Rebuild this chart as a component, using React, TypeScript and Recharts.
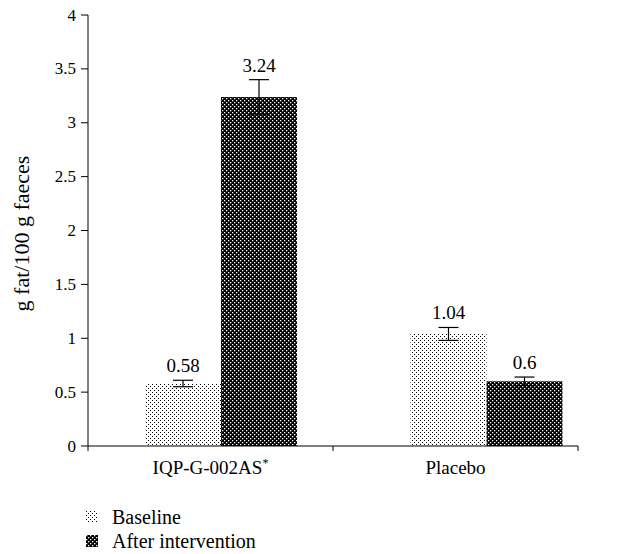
import React from 'react';
import { BarChart, Bar, XAxis, YAxis, ErrorBar, LabelList } from 'recharts';

const categories = ['IQP-G-002AS', 'Placebo'];
const categorySup = ['*', ''];
const seriesNames = ['Baseline', 'After intervention'];
const baselineValues = [0.58, 1.04];
const afterValues = [3.24, 0.6];
const baselineErrors = [0.03, 0.06];
const afterErrors = [0.16, 0.04];
const yTicks = [0, 0.5, 1, 1.5, 2, 2.5, 3, 3.5, 4];

const data = categories.map((c, i) => ({
  name: c,
  baseline: baselineValues[i],
  after: afterValues[i],
  baselineErr: baselineErrors[i],
  afterErr: afterErrors[i],
}));

const FONT = "'Liberation Serif', 'Times New Roman', serif";
const W = 620;
const H = 554;
const MARGIN = { top: 15, right: 42, left: 18, bottom: 68 };
const YAXIS_W = 70;
const PLOT_W = W - MARGIN.left - MARGIN.right - YAXIS_W;

const makeValueLabel = (errKey: string) => (props: any) => {
  const { x, y, width, height, value } = props;
  const idx = props.index ?? 0;
  const err = (data[idx] as any)[errKey] || 0;
  const pxPerUnit = value ? height / value : 0;
  const top = y - err * pxPerUnit;
  return (
    <text x={x + width / 2} y={top - 8} textAnchor="middle" fontSize={19} fill="#000" style={{ fontFamily: FONT }}>
      {value}
    </text>
  );
};

const CategoryTick = (props: any) => {
  const { x, y, payload } = props;
  const i = payload?.index ?? props.index ?? 0;
  const half = payload?.offset ? payload.offset : PLOT_W / categories.length / 2;
  return (
    <g>
      <line x1={x - half} y1={y} x2={x - half} y2={y + 5} stroke="#000" strokeWidth={1} />
      {i === categories.length - 1 && (
        <line x1={x + half} y1={y} x2={x + half} y2={y + 5} stroke="#000" strokeWidth={1} />
      )}
      <text x={x} y={y + 28} textAnchor="middle" fontSize={19} fill="#000" style={{ fontFamily: FONT }}>
        {categories[i]}
        {categorySup[i] ? (
          <tspan dy={-7} fontSize={12}>
            {categorySup[i]}
          </tspan>
        ) : null}
      </text>
    </g>
  );
};

const ValueTick = (props: any) => {
  const { x, y, payload } = props;
  return (
    <text x={x} y={y} textAnchor="end" dominantBaseline="central" fontSize={17} fill="#000" style={{ fontFamily: FONT }}>
      {payload.value}
    </text>
  );
};

const BaselinePattern = ({ id }: { id: string }) => (
  <pattern id={id} patternUnits="userSpaceOnUse" width={4} height={4}>
    <rect width={4} height={4} fill="#fff" />
    <rect x={0} y={0} width={1} height={1} fill="#000" />
    <rect x={2} y={2} width={1} height={1} fill="#000" />
  </pattern>
);

const AfterPattern = ({ id }: { id: string }) => (
  <pattern id={id} patternUnits="userSpaceOnUse" width={4} height={4}>
    <rect width={4} height={4} fill="#000" />
    <rect x={0} y={0} width={1.3} height={1.3} fill="#fff" />
    <rect x={2} y={2} width={1.3} height={1.3} fill="#fff" />
  </pattern>
);

const LegendBox = () => (
  <div style={{ position: 'absolute', left: 86, top: 505, fontFamily: FONT, fontSize: 20, color: '#000' }}>
    {seriesNames.map((n, i) => (
      <div key={n} style={{ display: 'flex', alignItems: 'center', height: 24 }}>
        <svg width={12} height={12} style={{ marginRight: 14 }}>
          <defs>
            {i === 0 ? <BaselinePattern id={`lg${i}`} /> : <AfterPattern id={`lg${i}`} />}
          </defs>
          <rect width={12} height={12} fill={`url(#lg${i})`} />
        </svg>
        <span>{n}</span>
      </div>
    ))}
  </div>
);

const YTitle = (p: any) => {
  const vb = p.viewBox || { x: 18, y: 15, width: 70, height: 431 };
  return (
    <text
      transform={`translate(${vb.x + 3}, ${vb.y + vb.height / 2 + 3}) rotate(-90)`}
      textAnchor="middle"
      dominantBaseline="central"
      fontSize={22}
      fill="#000"
      style={{ fontFamily: FONT }}
    >
      g fat/100 g faeces
    </text>
  );
};

export default function App() {
  return (
    <div style={{ position: 'absolute', left: 0, top: 0, width: W, height: H, background: '#fff', fontFamily: FONT }}>
      <BarChart width={W} height={H} data={data} margin={MARGIN} barGap={0} style={{ fontFamily: FONT }}>
        <defs>
          <BaselinePattern id="ptBase" />
          <AfterPattern id="ptAfter" />
        </defs>
        <XAxis
          xAxisId="labels"
          dataKey="name"
          height={40}
          axisLine={{ stroke: '#000', strokeWidth: 1 }}
          tickLine={false}
          tickSize={0}
          tickMargin={0}
          tick={<CategoryTick />}
          interval={0}
        />
        <XAxis xAxisId="bars" dataKey="name" hide height={0} padding={{ left: 0, right: -41 }} />
        <YAxis
          width={YAXIS_W}
          domain={[0, 4]}
          ticks={yTicks}
          interval={0}
          axisLine={{ stroke: '#000', strokeWidth: 1 }}
          tickLine={{ stroke: '#000', strokeWidth: 1 }}
          tickSize={7}
          tickMargin={5}
          tick={<ValueTick />}
          label={{ value: 'g fat/100 g faeces', content: YTitle }}
        />
        <Bar xAxisId="bars" dataKey="baseline" name={seriesNames[0]} fill="url(#ptBase)" barSize={76} isAnimationActive={false}>
          <ErrorBar dataKey="baselineErr" width={10} stroke="#000" strokeWidth={1.2} direction="y" />
          <LabelList dataKey="baseline" content={makeValueLabel('baselineErr')} />
        </Bar>
        <Bar xAxisId="bars" dataKey="after" name={seriesNames[1]} fill="url(#ptAfter)" barSize={76} isAnimationActive={false}>
          <ErrorBar dataKey="afterErr" width={10} stroke="#000" strokeWidth={1.2} direction="y" />
          <LabelList dataKey="after" content={makeValueLabel('afterErr')} />
        </Bar>
      </BarChart>
      <LegendBox />
    </div>
  );
}
